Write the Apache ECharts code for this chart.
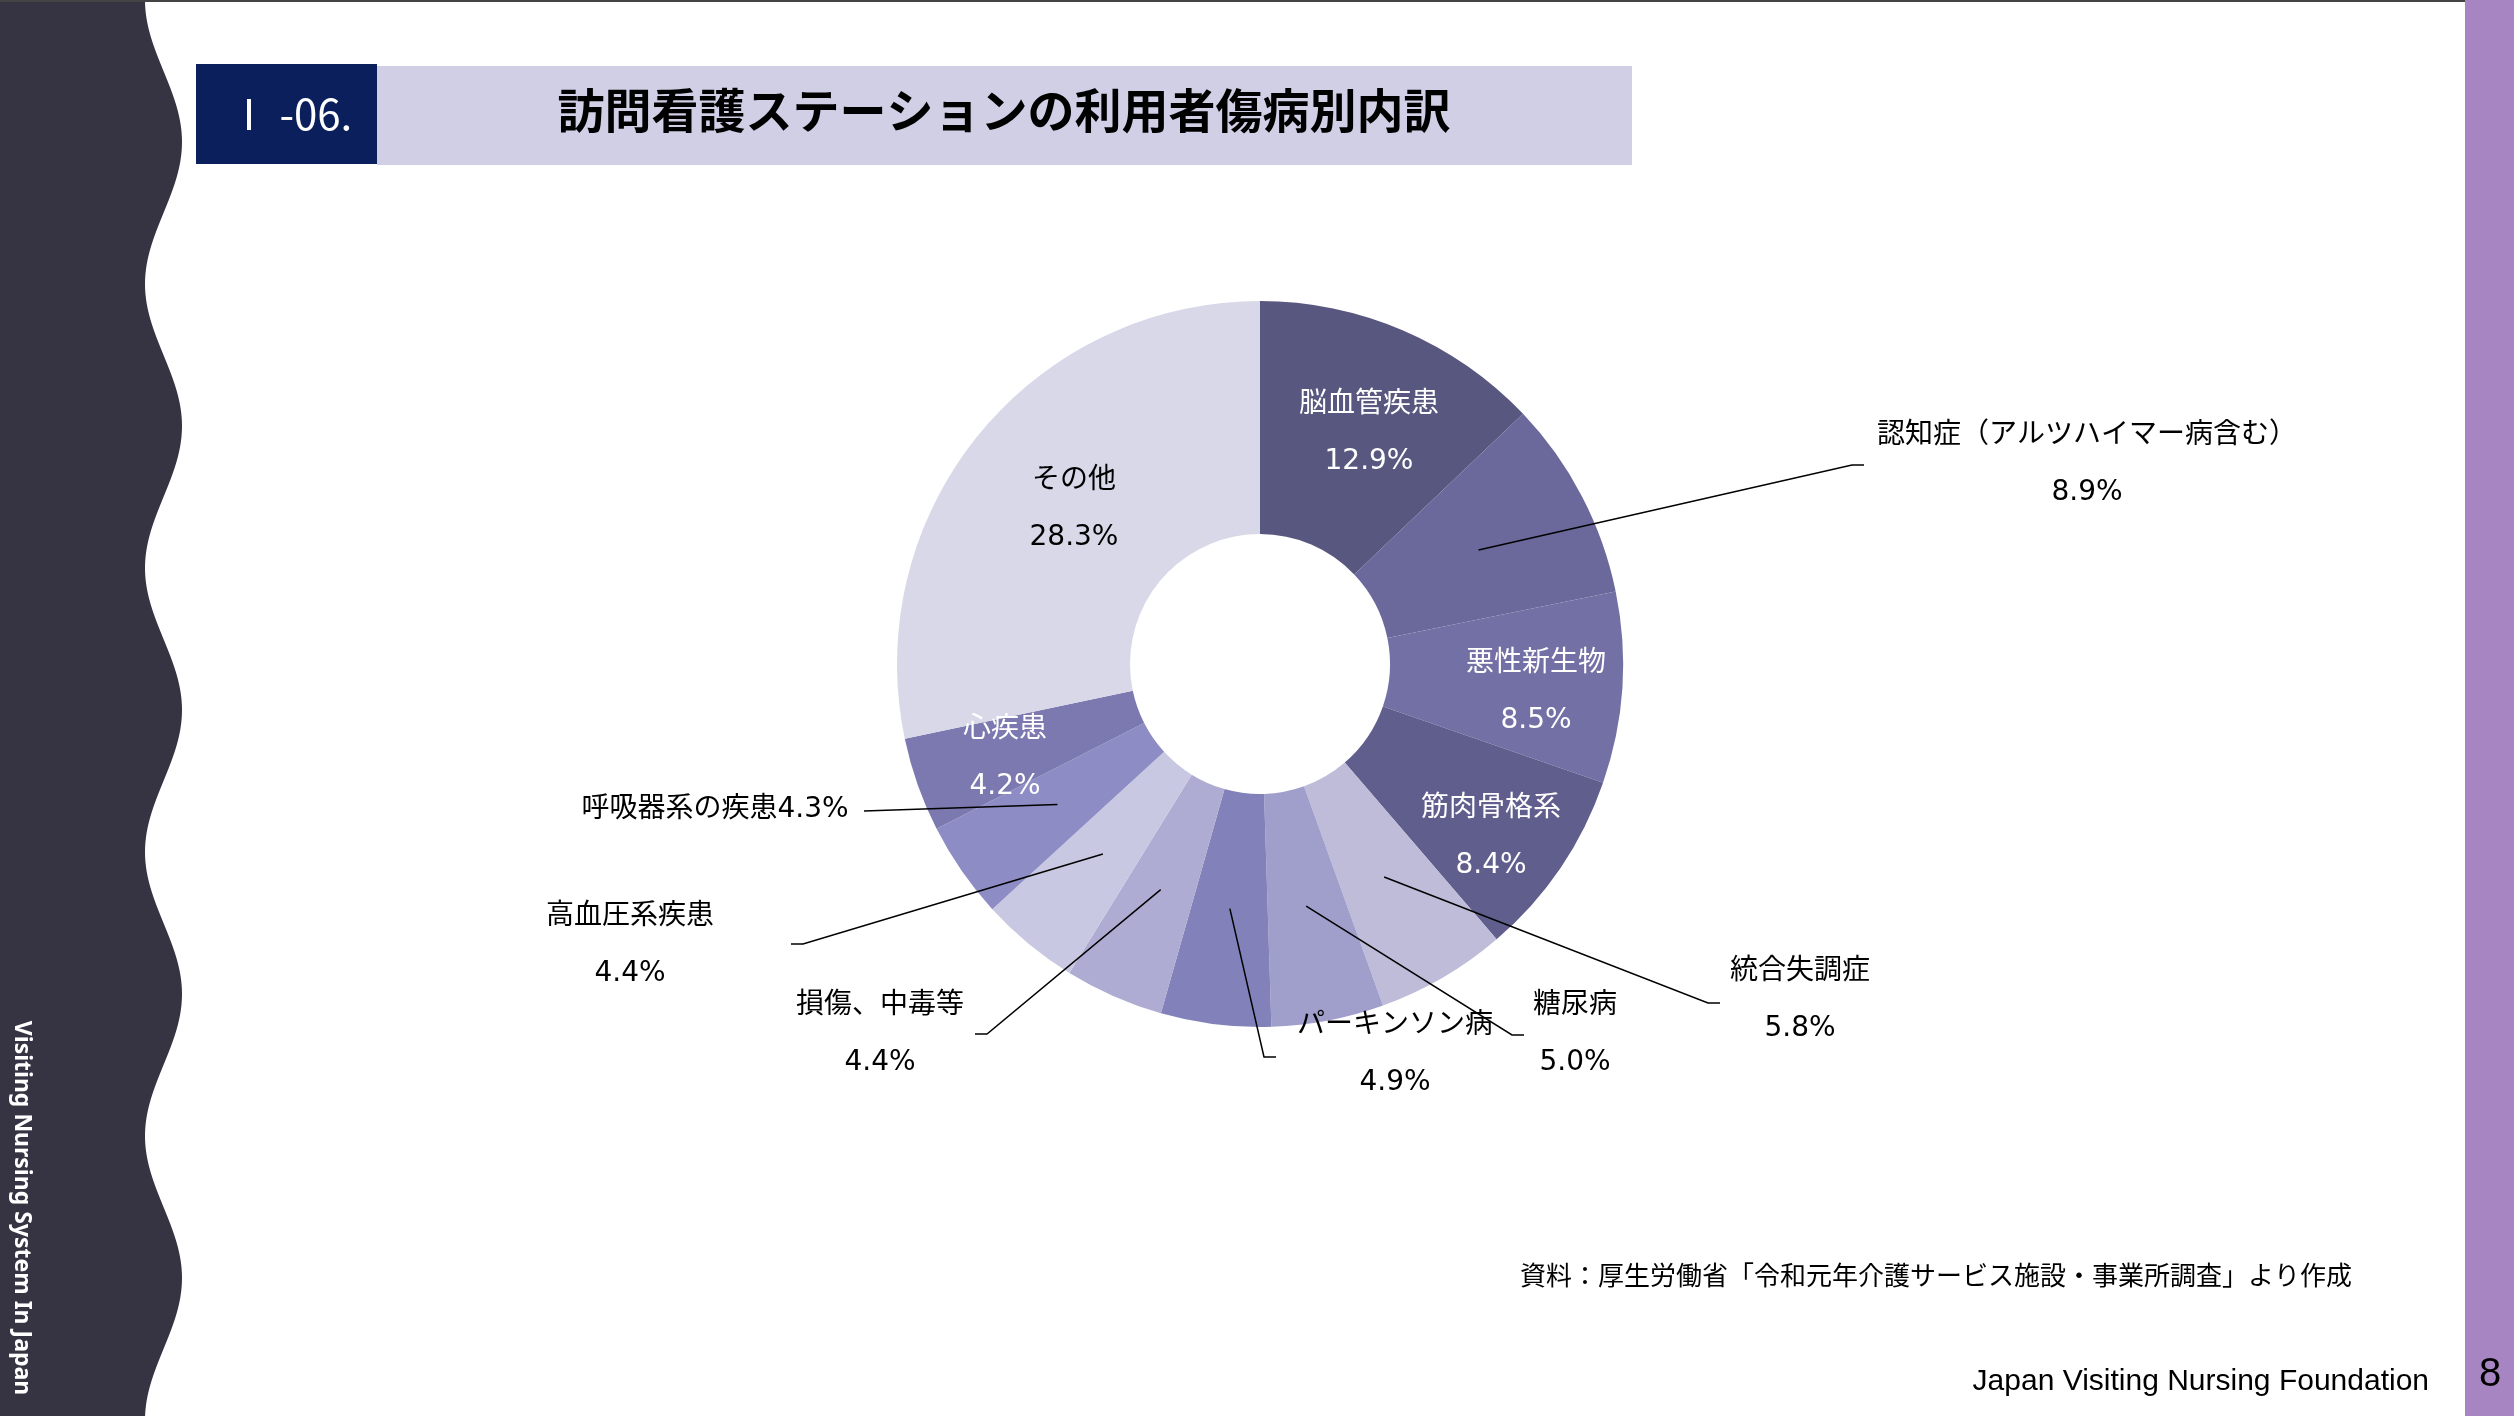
<!DOCTYPE html>
<html lang="ja">
<head>
<meta charset="UTF-8">
<title>訪問看護ステーションの利用者傷病別内訳</title>
<script src="https://cdn.jsdelivr.net/npm/echarts@6/dist/echarts.min.js"></script>
<style>
    html, body { margin: 0; padding: 0; background: #fff; }
    #main { width: 2514px; height: 1416px; }
</style>
</head>
<body>
<div id="main"></div>
<script>
    // 傷病別の割合（%）
    var categories = ['脳血管疾患', '認知症（アルツハイマー病含む）', '悪性新生物', '筋肉骨格系', '統合失調症', '糖尿病',
        'パーキンソン病', '損傷、中毒等', '高血圧系疾患', '呼吸器系の疾患', '心疾患', 'その他'];
    var values = [12.9, 8.9, 8.5, 8.4, 5.8, 5.0, 4.9, 4.4, 4.4, 4.3, 4.2, 28.3];

    var sliceColors = ['#58577f', '#6b699b', '#7370a5', '#605e8d', '#bebcd9', '#a09ecb',
        '#8381b9', '#aeacd3', '#c9c8e2', '#8e8cc4', '#7b79b0', '#d9d8e9'];

    // ラベルの置き場所（px）。end は引き出し線の終点
    var labelPos = [
        {x: 1369, y: 433, inside: true, color: '#fff'},
        {x: 2087, y: 464, end: [1864, 465]},
        {x: 1536, y: 692, inside: true, color: '#fff'},
        {x: 1491, y: 837, inside: true, color: '#fff'},
        {x: 1800, y: 1000, end: [1720, 1003]},
        {x: 1575, y: 1034, end: [1524, 1035]},
        {x: 1395, y: 1054, end: [1276, 1057]},
        {x: 880, y: 1034, end: [975, 1034]},
        {x: 630, y: 945, end: [791, 944]},
        {x: 715, y: 810, end: [864, 811], oneLine: true},
        {x: 1005, y: 758, inside: true, color: '#fff'},
        {x: 1074, y: 509, inside: true, color: '#000'}
    ];

    var cx = 1260, cy = 664, innerR = 130, outerR = 363;
    var midR = (innerR + outerR) / 2;

    // 下の円：色付きの扇形と内側ラベル
    var pieData = categories.map(function (name, i) {
        var lp = labelPos[i];
        return {
            name: name,
            value: values[i],
            itemStyle: {color: sliceColors[i]},
            label: {show: !!lp.inside, color: lp.color || '#000'}
        };
    });
    // 上の円：透明な扇形に外側ラベルと引き出し線を載せる
    var overlayData = categories.map(function (name, i) {
        var lp = labelPos[i];
        return {
            name: name,
            value: values[i],
            label: {show: !lp.inside},
            labelLine: {show: !lp.inside}
        };
    });

    // 左の波形パネル
    var wave = [[0, 0]];
    for (var yy = 0; yy <= 1416; yy += 4) {
        wave.push([163.5 - 18.5 * Math.cos(2 * Math.PI * yy / 284), yy]);
    }
    wave.push([0, 1416]);

    var cjk = '"Noto Sans CJK JP", sans-serif';
    var labelFont = '"DejaVu Sans", "Noto Sans CJK JP", sans-serif';

    function fmt(p) {
        var pct = p.value.toFixed(1) + '%';
        return labelPos[p.dataIndex].oneLine ? p.name + pct : p.name + '\n' + pct;
    }

    var myChart = echarts.init(document.getElementById('main'));
    var option = {
        backgroundColor: '#fff',
        animation: false,
        graphic: [
            {type: 'polygon', shape: {points: wave}, style: {fill: '#363443'}},
            {type: 'rect', shape: {x: 0, y: 0, width: 2465, height: 2}, style: {fill: '#444'}},
            {type: 'rect', shape: {x: 2465, y: 0, width: 49, height: 1416}, style: {fill: '#a785c2'}},
            {type: 'rect', shape: {x: 196, y: 64, width: 181, height: 100}, style: {fill: '#0a1f5b'}},
            {type: 'rect', shape: {x: 377, y: 66, width: 1255, height: 99}, style: {fill: '#d0cfe6'}},
            {
                type: 'text', x: 228, y: 114,
                style: {text: 'Ⅰ -06.', fill: '#fff', font: '42px ' + cjk, textVerticalAlign: 'middle'}
            },
            {
                type: 'text', x: 1004, y: 110,
                style: {
                    text: '訪問看護ステーションの利用者傷病別内訳', fill: '#000',
                    font: 'bold 47px ' + cjk, textAlign: 'center', textVerticalAlign: 'middle'
                }
            },
            {
                type: 'text', x: 22, y: 1208, rotation: -Math.PI / 2,
                style: {
                    text: 'Visiting Nursing System In Japan', fill: '#fff',
                    font: 'bold 23px "Noto Sans", sans-serif', textAlign: 'center', textVerticalAlign: 'middle'
                }
            },
            {
                type: 'text', x: 2352, y: 1275,
                style: {
                    text: '資料：厚生労働省「令和元年介護サービス施設・事業所調査」より作成', fill: '#000',
                    font: '26px ' + cjk, textAlign: 'right', textVerticalAlign: 'middle'
                }
            },
            {
                type: 'text', x: 2429, y: 1382,
                style: {
                    text: 'Japan Visiting Nursing Foundation', fill: '#000',
                    font: '30px "Liberation Sans", sans-serif', textAlign: 'right', textVerticalAlign: 'middle'
                }
            },
            {
                type: 'text', x: 2490, y: 1375,
                style: {
                    text: '8', fill: '#000', font: '40px "Liberation Sans", sans-serif',
                    textAlign: 'center', textVerticalAlign: 'middle'
                }
            }
        ],
        series: [
            {
                type: 'pie',
                z: 2,
                center: [cx, cy],
                radius: [innerR, outerR],
                startAngle: 90,
                clockwise: true,
                avoidLabelOverlap: false,
                itemStyle: {borderWidth: 0},
                label: {
                    position: 'inside',
                    fontSize: 28,
                    fontFamily: labelFont,
                    lineHeight: 57,
                    formatter: fmt
                },
                labelLine: {show: false},
                labelLayout: function (params) {
                    var lp = labelPos[params.dataIndex];
                    return {x: lp.x, y: lp.y, align: 'center', verticalAlign: 'middle'};
                },
                emphasis: {disabled: true},
                data: pieData
            },
            {
                type: 'pie',
                z: 5,
                silent: true,
                center: [cx, cy],
                radius: [innerR, outerR],
                startAngle: 90,
                clockwise: true,
                avoidLabelOverlap: false,
                itemStyle: {color: 'rgba(0,0,0,0)', borderWidth: 0},
                label: {
                    position: 'outside',
                    color: '#000',
                    fontSize: 28,
                    fontFamily: labelFont,
                    lineHeight: 57,
                    formatter: fmt
                },
                labelLine: {
                    showAbove: true,
                    length: 10,
                    length2: 10,
                    lineStyle: {color: '#000', width: 1.5}
                },
                labelLayout: function (params) {
                    var lp = labelPos[params.dataIndex];
                    var res = {x: lp.x, y: lp.y, align: 'center', verticalAlign: 'middle'};
                    if (params.labelLinePoints) {
                        var p0 = params.labelLinePoints[0];
                        var k = midR / outerR;
                        var start = [cx + (p0[0] - cx) * k, cy + (p0[1] - cy) * k];
                        var bend = lp.oneLine ? lp.end.slice()
                            : [lp.end[0] + (lp.end[0] < lp.x ? -12 : 12), lp.end[1]];
                        res.labelLinePoints = [start, bend, lp.end.slice()];
                    }
                    return res;
                },
                emphasis: {disabled: true},
                data: overlayData
            }
        ]
    };
    myChart.setOption(option);
</script>
</body>
</html>
